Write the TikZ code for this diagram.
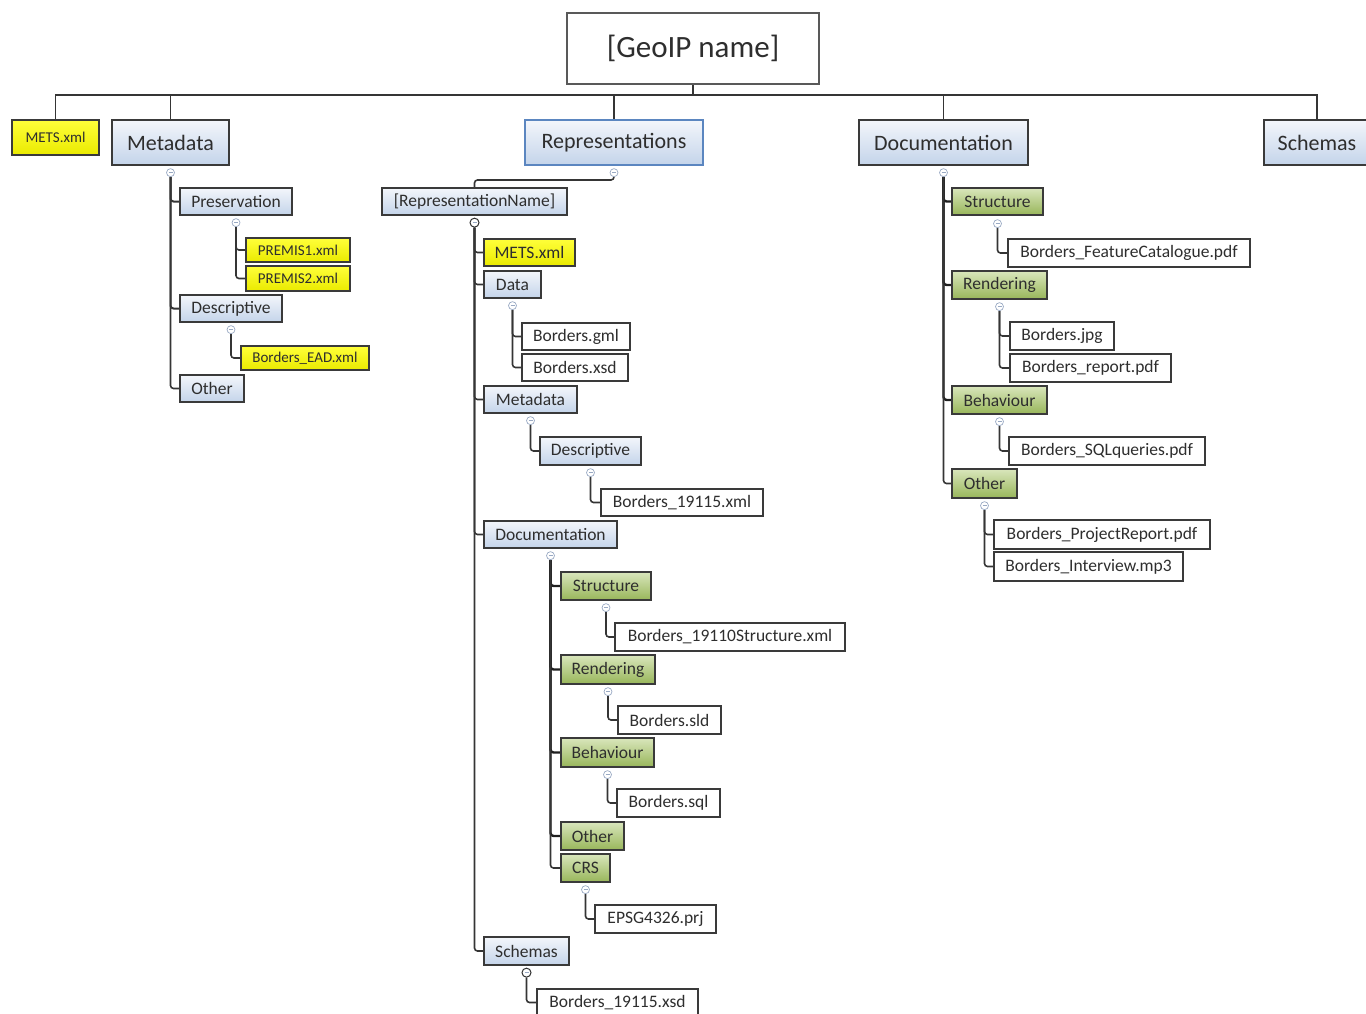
\documentclass[tikz,border=0pt]{standalone}
\usepackage{fontspec}
\setmainfont{Carlito}
\usetikzlibrary{calc}
\definecolor{txt}{HTML}{2E2E2E}
\definecolor{boxline}{HTML}{3A3A3A}
\definecolor{repline}{HTML}{5B86C0}
\definecolor{bluetop}{HTML}{F3F6FB}
\definecolor{bluebot}{HTML}{C4D4EA}
\definecolor{greentop}{HTML}{D9E6BC}
\definecolor{greenbot}{HTML}{98B65A}
\definecolor{yellowtop}{HTML}{FFFF3A}
\definecolor{yellowbot}{HTML}{EAEA00}
\definecolor{connc}{HTML}{353535}
\definecolor{collc}{HTML}{9AAAC4}
\pgfdeclarelayer{bg}
\pgfsetlayers{bg,main}
\tikzset{
  sz/.style 2 args={minimum width=#1pt, minimum height=#2pt},
  box/.style={draw=boxline, line width=1.3pt, inner sep=0pt, text=txt, font=\fontsize{17.5}{20}\selectfont},
  bluebox/.style={box, top color=bluetop, bottom color=bluebot},
  greenbox/.style={box, top color=greentop, bottom color=greenbot},
  yellowbox/.style={box, top color=yellowtop, bottom color=yellowbot},
  filebox/.style={box, fill=white},
  topbox/.style={bluebox, font=\fontsize{22}{26}\selectfont},
  conn/.style={draw=connc, line width=1.6pt, rounded corners=3pt},
  trunk/.style={conn, draw=black!88, line width=2.4pt},
  coll/.style={circle, draw=collc, fill=white, minimum size=8pt, inner sep=0pt, line width=0.7pt,
    path picture={\draw[collc, line width=0.8pt] ([xshift=-2pt]path picture bounding box.center) -- ([xshift=2pt]path picture bounding box.center);}},
  collD/.style={coll, draw=black!80, line width=1pt, minimum size=9pt}
}
\begin{document}
\begin{tikzpicture}[x=1pt, y=-1pt]
\useasboundingbox (0,0) rectangle (1366,1014);

% ---- root and level 1
\node[filebox, draw=black!65, line width=1.5pt, sz={252}{71}, font=\fontsize{31}{36}\selectfont] (root) at (693,48.5) {[GeoIP name]};
\coordinate (bus) at (693,95);
\node[yellowbox, sz={87}{35}, font=\fontsize{15}{18}\selectfont] (mets1) at (55.5,137.5) {METS.xml};
\node[topbox, sz={117}{45}] (meta1) at (170.5,142.5) {Metadata};
\node[topbox, draw=repline, sz={178}{45}] (rep) at (614,142.5) {Representations};
\node[topbox, sz={169}{45}] (doc1) at (943.5,142.5) {Documentation};
\node[topbox, sz={106}{45}] (sch1) at (1317,142.5) {Schemas};

% ---- Metadata subtree
\node[bluebox, sz={112}{27}] (pres) at (236,201.5) {Preservation};
\node[yellowbox, sz={104}{24}, font=\fontsize{15}{18}\selectfont] (premis1) at (298,250) {PREMIS1.xml};
\node[yellowbox, sz={104}{25}, font=\fontsize{15}{18}\selectfont] (premis2) at (298,278.5) {PREMIS2.xml};
\node[bluebox, sz={102}{27}] (desc1) at (231,308.5) {Descriptive};
\node[yellowbox, sz={128}{24}, font=\fontsize{15}{18}\selectfont] (ead) at (305,358) {Borders\_EAD.xml};
\node[bluebox, sz={64}{27}] (other1) at (212,388.5) {Other};

% ---- Representations subtree
\node[bluebox, sz={185}{27}] (repname) at (474.5,201.5) {[RepresentationName]};
\node[yellowbox, sz={91}{27}] (mets2) at (529.5,252.5) {METS.xml};
\node[bluebox, sz={57}{27}] (data) at (512.5,284.5) {Data};
\node[filebox, sz={108}{27}] (gml) at (576,336.5) {Borders.gml};
\node[filebox, sz={106}{27}] (xsd) at (575,367.5) {Borders.xsd};
\node[bluebox, sz={93}{27}] (meta2) at (530.5,399.5) {Metadata};
\node[bluebox, sz={101}{28}] (desc2) at (590.5,451) {Descriptive};
\node[filebox, sz={162}{27}] (b19115) at (682,502.5) {Borders\_19115.xml};
\node[bluebox, sz={133}{27}] (doc2) at (550.5,534.5) {Documentation};
\node[greenbox, sz={90}{28}] (struct2) at (606,586) {Structure};
\node[filebox, sz={230}{28}] (b19110) at (730,637) {Borders\_19110Structure.xml};
\node[greenbox, sz={94}{29}] (rend2) at (608,669.5) {Rendering};
\node[filebox, sz={103}{28}] (sld) at (669.5,720) {Borders.sld};
\node[greenbox, sz={93}{29}] (beh2) at (607.5,752.5) {Behaviour};
\node[filebox, sz={103}{28}] (sql) at (668.5,803) {Borders.sql};
\node[greenbox, sz={63}{28}] (other2) at (592.5,836) {Other};
\node[greenbox, sz={49}{28}] (crs) at (585.5,868) {CRS};
\node[filebox, sz={121}{28}] (epsg) at (655.5,919) {EPSG4326.prj};
\node[bluebox, sz={85}{28}] (sch2) at (526.5,951) {Schemas};
\node[filebox, sz={161}{27}] (xsd2) at (617.5,1002.5) {Borders\_19115.xsd};

% ---- Documentation subtree
\node[greenbox, sz={91}{27}] (struct3) at (997.5,201.5) {Structure};
\node[filebox, sz={242}{28}] (featcat) at (1129,253) {Borders\_FeatureCatalogue.pdf};
\node[greenbox, sz={95}{28}] (rend3) at (999.5,285) {Rendering};
\node[filebox, sz={104}{28}] (jpg) at (1062,336) {Borders.jpg};
\node[filebox, sz={161}{28}] (report) at (1090.5,368) {Borders\_report.pdf};
\node[greenbox, sz={95}{28}] (beh3) at (999.5,400) {Behaviour};
\node[filebox, sz={196}{28}] (sqlq) at (1107,451) {Borders\_SQLqueries.pdf};
\node[greenbox, sz={65}{29}] (other3) at (984.5,483.5) {Other};
\node[filebox, sz={216}{29}] (projrep) at (1102,534.5) {Borders\_ProjectReport.pdf};
\node[filebox, sz={189}{29}] (interview) at (1088.5,566.5) {Borders\_Interview.mp3};

% ---- collapse markers
\node[coll] (cMeta1) at ([yshift=-7pt]meta1.south) {};
\node[coll] (cPres) at ([yshift=-7pt]pres.south) {};
\node[coll] (cDesc1) at ([yshift=-7pt]desc1.south) {};
\node[coll] (cRep) at ([yshift=-7pt]rep.south) {};
\node[collD] (cRepname) at ([yshift=-7pt]repname.south) {};
\node[coll] (cData) at ([yshift=-7pt]data.south) {};
\node[coll] (cMeta2) at ([yshift=-7pt]meta2.south) {};
\node[coll] (cDesc2) at ([yshift=-7pt]desc2.south) {};
\node[coll] (cDoc2) at ([yshift=-7pt]doc2.south) {};
\node[coll] (cStruct2) at ([yshift=-7pt]struct2.south) {};
\node[coll] (cRend2) at ([yshift=-7pt]rend2.south) {};
\node[coll] (cBeh2) at ([yshift=-7pt]beh2.south) {};
\node[coll] (cCrs) at ([yshift=-7pt]crs.south) {};
\node[collD] (cSch2) at ([yshift=-7pt]sch2.south) {};
\node[coll] (cDoc1) at ([yshift=-7pt]doc1.south) {};
\node[coll] (cStruct3) at ([yshift=-8pt]struct3.south) {};
\node[coll] (cRend3) at ([yshift=-7pt]rend3.south) {};
\node[coll] (cBeh3) at ([yshift=-7pt]beh3.south) {};
\node[coll] (cOther3) at ([yshift=-7pt]other3.south) {};

% ---- connectors
\begin{pgfonlayer}{bg}
\foreach \c in {mets1,meta1,rep,doc1,sch1}
  \draw[conn, rounded corners=0pt] (root.south) -- (bus) -| (\c.north);

\draw[conn, line width=2pt] (cMeta1.south) |- (pres.west);
\draw[conn, line width=2pt] (cMeta1.south) |- (desc1.west);
\draw[conn] (cMeta1.south) |- (other1.west);
\foreach \c in {premis1,premis2} \draw[conn] (cPres.south) |- (\c.west);
\draw[conn] (cDesc1.south) |- (ead.west);

\draw[conn] (cRep.south) -- ++(0,3) -| (repname.north);
\foreach \c in {mets2,data,meta2,doc2,sch2} \draw[conn] (cRepname.south) |- (\c.west);
\foreach \c in {gml,xsd} \draw[conn] (cData.south) |- (\c.west);
\draw[conn] (cMeta2.south) |- (desc2.west);
\draw[conn] (cDesc2.south) |- (b19115.west);
\foreach \c in {struct2,rend2,beh2,other2} \draw[trunk] (cDoc2.south) |- (\c.west);
\draw[conn] (cDoc2.south) |- (crs.west);
\draw[conn] (cStruct2.south) |- (b19110.west);
\draw[conn] (cRend2.south) |- (sld.west);
\draw[conn] (cBeh2.south) |- (sql.west);
\draw[conn] (cCrs.south) |- (epsg.west);
\draw[conn] (cSch2.south) |- (xsd2.west);

\foreach \c in {struct3,rend3,beh3} \draw[trunk] (cDoc1.south) |- (\c.west);
\draw[conn] (cDoc1.south) |- (other3.west);
\draw[conn] (cStruct3.south) |- (featcat.west);
\foreach \c in {jpg,report} \draw[conn] (cRend3.south) |- (\c.west);
\draw[conn] (cBeh3.south) |- (sqlq.west);
\foreach \c in {projrep,interview} \draw[conn] (cOther3.south) |- (\c.west);
\end{pgfonlayer}
\end{tikzpicture}
\end{document}
